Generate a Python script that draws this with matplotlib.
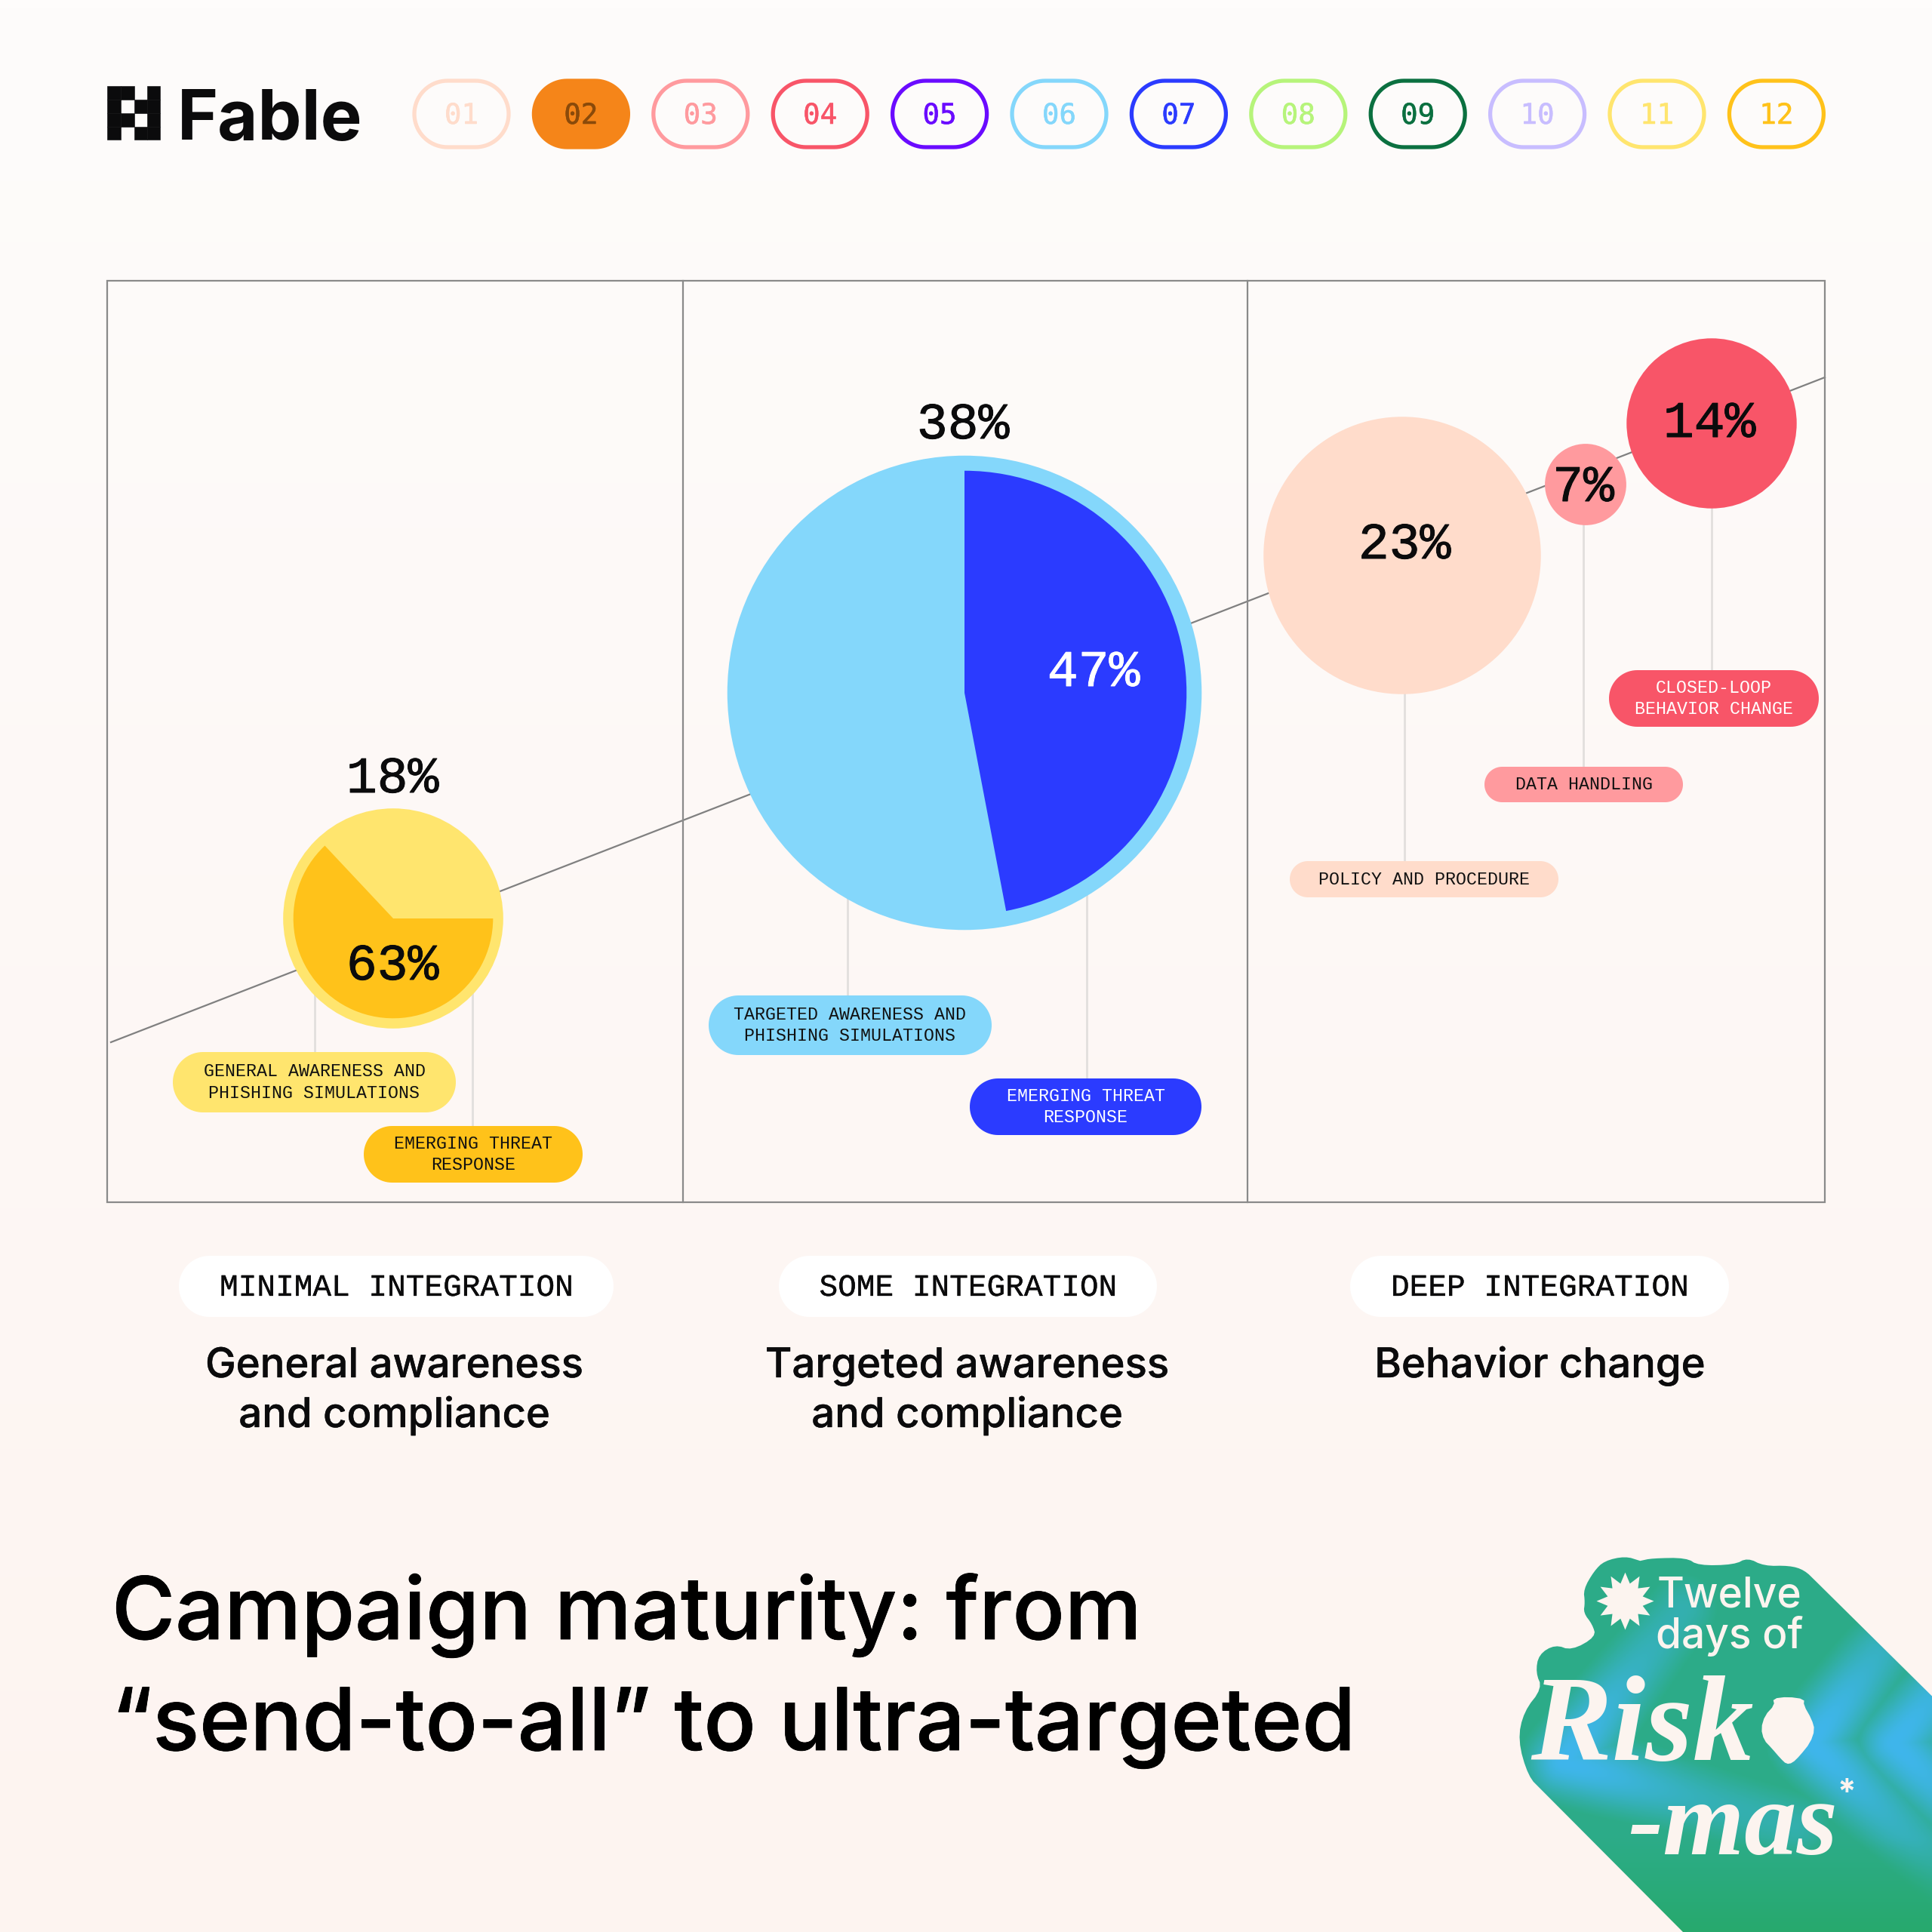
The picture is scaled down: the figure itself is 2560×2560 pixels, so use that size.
"""
Campaign maturity infographic, laid out in pixel coordinates on a 2560 canvas.
"""
import numpy as np
import matplotlib
matplotlib.use("Agg")
import matplotlib.pyplot as plt
import matplotlib.patheffects as pe
from matplotlib.patches import Circle, Wedge, Polygon, Rectangle

# --- data ---
STAGES = ["MINIMAL INTEGRATION", "SOME INTEGRATION", "DEEP INTEGRATION"]
STAGE_NOTES = [["General awareness", "and compliance"], ["Targeted awareness", "and compliance"], ["Behavior change"]]
STAGE_TOTALS = [18, 38]
INNER_SHARES = [63, 47]
DEEP_VALUES = [23, 7, 14]
STEP_LABELS = ["01", "02", "03", "04", "05", "06", "07", "08", "09", "10", "11", "12"]
PILL_LABELS = [
    "GENERAL AWARENESS AND\nPHISHING SIMULATIONS",
    "EMERGING THREAT\nRESPONSE",
    "TARGETED AWARENESS AND\nPHISHING SIMULATIONS",
    "EMERGING THREAT\nRESPONSE",
    "POLICY AND PROCEDURE",
    "DATA HANDLING",
    "CLOSED-LOOP\nBEHAVIOR CHANGE",
]
TITLE_LINES = ["Campaign maturity: from", "\u201csend-to-all\u201d to ultra-targeted"]

# --- styles ---
STEP_COLORS = ["#FFDCCB", "#F58519", "#FF9A9E", "#F85568", "#6A0BFF", "#84D7FB",
               "#2B3BFF", "#B6F47A", "#0B7040", "#C8BDFF", "#FFE56E", "#FFC21A"]
PILL_COLORS = ["#FFE56E", "#FFC21A", "#84D7FB", "#2B3BFF", "#FFDCCB", "#FF9A9E", "#F85568"]
PILL_TEXT = ["#111111", "#111111", "#111111", "#FFFFFF", "#111111", "#111111", "#FFFFFF"]
MONO = "Liberation Mono"
SANS = "Inter"
INK = "#0B0B0C"
CREAM = "#FCF4EF"

fig = plt.figure(figsize=(12.8, 12.8), dpi=200)
ax = fig.add_axes([0, 0, 1, 1])

# background wash
top_rgb = np.array([254, 252, 251])
low_rgb = np.array([253, 244, 240])
wash = np.linspace(0, 1, 256)[:, None, None] * (low_rgb - top_rgb) + top_rgb
ax.imshow(wash / 255, extent=(0, 2560, 2560, 0), aspect="auto", zorder=0)
ax.set_xlim(0, 2560)
ax.set_ylim(2560, 0)
ax.axis("off")


def pill(x0, x1, y0, y1, **kw):
    # true stadium shape, FancyBboxPatch corners look too square
    r = (y1 - y0) / 2
    a = np.deg2rad(np.linspace(-90, 90, 40))
    right = np.column_stack([x1 - r + r * np.cos(a), (y0 + y1) / 2 + r * np.sin(a)])
    left = np.column_stack([x0 + r - r * np.cos(a), (y0 + y1) / 2 - r * np.sin(a)])
    p = Polygon(np.vstack([right, left]), closed=True, **kw)
    ax.add_patch(p)
    return p


def firm(width, color):
    return [pe.withStroke(linewidth=width, foreground=color)]


# === Header ===
cells_x = [142, 160, 178, 195, 212]
cells_y = [114, 132, 150, 168, 185]
logo_on = [[1, 1, 0, 1], [1, 0, 1, 1], [1, 1, 0, 1], [1, 0, 1, 1]]
for r, row in enumerate(logo_on):
    for c, on in enumerate(row):
        if on:
            ax.add_patch(Rectangle((cells_x[c], cells_y[r]), cells_x[c + 1] - cells_x[c],
                                   cells_y[r + 1] - cells_y[r], fc=INK, ec=INK, lw=0.2, zorder=3))
ax.text(235, 185, "Fable", family=SANS, weight="bold", fontsize=33.2, color=INK, ha="left", va="baseline")

for i, (lab, col) in enumerate(zip(STEP_LABELS, STEP_COLORS)):
    x0 = 547 + i * 158.4
    filled = i == 1
    pill(x0 + 2, x0 + 127, 107, 195, fc=col if filled else "none", ec=col, lw=1.9, zorder=3)
    tc = "#8A4A0A" if filled else col
    ax.text(x0 + 64.5, 154, lab, family="DejaVu Sans Mono", fontsize=13.5, ha="center", va="center",
            color=tc, zorder=4, path_effects=firm(0.2, tc))

# === Panels ===
ax.plot([147, 2418], [1381, 500], color="#808080", lw=0.8, zorder=1)
ax.add_patch(Rectangle((142, 372), 2276, 1221, fc="none", ec="#8A8A8A", lw=0.8, zorder=2))
for x in [905, 1653]:
    ax.plot([x, x], [372, 1593], color="#8A8A8A", lw=0.8, zorder=2)

# leader lines
leaders = [(417, 1300, 1395), (626, 1300, 1495), (1123, 1180, 1320), (1440, 1180, 1430),
           (1861, 900, 1143), (2098, 680, 1016), (2268, 660, 890)]
for x, y0, y1 in leaders:
    ax.plot([x, x], [y0, y1], color="#E2DFDD", lw=1.0, zorder=2)

# two pies inside rings
pie_layout = [(521, 1217, 8.1, 13.5, 0, "#FFE56E", "#FFC21A"), (1278, 918, 8.27, 20, 90, "#84D7FB", "#2B3BFF")]
for total, share, (cx, cy, scale, ring, start, light, dark) in zip(STAGE_TOTALS, INNER_SHARES, pie_layout):
    r = total * scale
    ax.add_patch(Circle((cx, cy), r, fc=light, ec="none", zorder=3))
    # y axis is inverted, so angles in Wedge run clockwise on screen
    a0 = -start
    a1 = a0 + share * 3.6
    ax.add_patch(Wedge((cx, cy), r - ring, a0, a1, fc=dark, ec="none", zorder=4))

# deep integration bubbles
deep_layout = [(1858, 736, 7.99, "#FFDCCB"), (2101, 642, 7.7, "#FF9A9E"), (2268, 561, 8.05, "#F85568")]
for v, (cx, cy, scale, col) in zip(DEEP_VALUES, deep_layout):
    ax.add_patch(Circle((cx, cy), v * scale, fc=col, ec="none", zorder=3))

# percentage labels
pct_text = STAGE_TOTALS + INNER_SHARES + DEEP_VALUES
pct_pos = [(520, 1032), (1276, 563), (520, 1280), (1449, 891), (1861, 722), (2098, 646), (2265, 561)]
pct_col = [INK, INK, INK, "#FFFFFF", INK, INK, INK]
for v, (x, y), col in zip(pct_text, pct_pos, pct_col):
    ax.text(x, y, f"{v}%", family=MONO, fontsize=24.5, color=col, ha="center", va="center", zorder=6,
            path_effects=firm(0.35, col))

# pills with category text
pill_boxes = [(229, 604, 1394, 1474), (482, 772, 1492, 1567), (939, 1314, 1319, 1398), (1285, 1592, 1429, 1504),
              (1709, 2065, 1141, 1189), (1967, 2230, 1016, 1063), (2132, 2410, 888, 963)]
for lab, (x0, x1, y0, y1), col, tc in zip(PILL_LABELS, pill_boxes, PILL_COLORS, PILL_TEXT):
    pill(x0, x1, y0, y1, fc=col, ec="none", zorder=5)
    ax.text((x0 + x1) / 2, (y0 + y1) / 2, lab, family=MONO, fontsize=8.4, color=tc, ha="center", va="center",
            linespacing=1.28, zorder=6)

# === Stage captions ===
stage_boxes = [(237, 813), (1032, 1533), (1789, 2291)]
note_x = [522, 1281, 2040]
for lab, note, (x0, x1), nx in zip(STAGES, STAGE_NOTES, stage_boxes, note_x):
    pill(x0, x1, 1664, 1745, fc="#FFFFFF", ec="none", zorder=3)
    ax.text((x0 + x1) / 2, 1706, lab, family=MONO, fontsize=14.8, color=INK, ha="center", va="center", zorder=4,
            path_effects=firm(0.1, INK))
    for line, y in zip(note, [1825, 1891]):
        ax.text(nx, y, line, family=SANS, weight="medium", fontsize=19.6, color=INK, ha="center", va="baseline",
                zorder=4, path_effects=firm(0.12, INK))

# === Title ===
for line, y in zip(TITLE_LINES, [2172, 2319]):
    ax.text(148, y, line, family=SANS, weight="medium", fontsize=41.3, color="#000000", ha="left", va="baseline",
            path_effects=firm(0.3, "#000000"))


# === Twelve days of Risk-mas sticker ===
def zoom_xy(pts):
    # outline was traced on a crop: 2.529x / 2.904y from (1940, 2020)
    return [(1940 + a / 2.529, 2020 + b / 2.904) for a, b in pts]


def smooth(pts, rounds=2, closed=False):
    pts = np.array(pts, float)
    for _ in range(rounds):
        nxt = np.roll(pts, -1, axis=0)
        new = np.column_stack([0.75 * pts + 0.25 * nxt, 0.25 * pts + 0.75 * nxt]).reshape(-1, 2)
        pts = new if closed else np.vstack([pts[:1], new[:-2], pts[-1:]])
    return pts


sticker = zoom_xy([(590, 140), (540, 122), (470, 140), (435, 180), (400, 250), (405, 300), (400, 340), (430, 385),
                   (442, 432), (360, 485), (305, 462), (250, 500), (240, 570), (262, 630), (200, 720), (180, 830),
                   (215, 970), (260, 1022)])
sticker_right = zoom_xy([(1180, 220), (1140, 175), (1090, 158), (1005, 160), (950, 128), (905, 155), (785, 158),
                         (745, 128), (630, 130), (590, 140)])
outline = np.vstack([smooth(sticker), [(2230, 2560), (2600, 2560), (2600, 2287)], smooth(sticker_right)])

xs = np.arange(1980, 2561, 2)
ys = np.arange(2040, 2561, 2)
gx, gy = np.meshgrid(xs, ys)


def seg_dist(ax_, ay_, bx_, by_):
    dx, dy = bx_ - ax_, by_ - ay_
    t = np.clip(((gx - ax_) * dx + (gy - ay_) * dy) / (dx * dx + dy * dy), 0, 1)
    return np.hypot(gx - ax_ - t * dx, gy - ay_ - t * dy)


# soft blue arms: each runs up-right from a corner and down-right along the shadow,
# strongest at the corner and turning teal towards the ends
bands = [
    [(2070, 2335), (2230, 2130), (2070, 2335), (2380, 2420)],
    [(2400, 2310), (2490, 2190), (2400, 2310), (2600, 2500)],
    [(2510, 2310), (2570, 2240), (2510, 2310), (2600, 2400)],
]
blue = np.zeros_like(gx, float) + 0.22
for b in bands:
    d = np.minimum(seg_dist(*b[0], *b[1]), seg_dist(*b[2], *b[3]))
    corner = np.hypot(gx - b[0][0], gy - b[0][1])
    blue = np.maximum(blue, np.exp(-(d / 50.0) ** 2) * (0.5 + 0.5 * np.exp(-(corner / 150.0) ** 2)))
blue = blue * np.clip((2560 - gy) / 130 + 0.05, 0.0, 1)
green = np.array([39, 169, 108]) / 255
sky = np.array([63, 182, 236]) / 255
img = green + blue[..., None] * (sky - green)
im = ax.imshow(img, extent=(1980, 2560, 2560, 2040), aspect="auto", zorder=7)
shape = Polygon(outline, closed=True, fc="none", ec="none", zorder=7)
ax.add_patch(shape)
im.set_clip_path(shape)
ax.set_xlim(0, 2560)
ax.set_ylim(2560, 0)

# star and jar
angles = np.deg2rad(np.arange(24) * 15 - 90)
radii = np.where(np.arange(24) % 2 == 0, 38, 24)
ax.add_patch(Polygon(np.column_stack([2153.5 + radii * np.cos(angles), 2121.6 + radii * np.sin(angles)]),
                     fc=CREAM, ec="none", zorder=8))
jar = zoom_xy([(1035, 670), (1085, 663), (1140, 672), (1138, 695), (1165, 750), (1175, 790), (1160, 840), (1125, 890),
               (1100, 918), (1080, 922), (1060, 900), (1030, 860), (1005, 830), (995, 785), (1008, 735), (1040, 695)])
ax.add_patch(Polygon(smooth(jar, 1, closed=True), fc=CREAM, ec="none", zorder=8))

ax.text(2292, 2130, "Twelve", family=SANS, weight="medium", fontsize=19.8, color=CREAM, ha="center", va="baseline", zorder=8)
ax.text(2292, 2184, "days of", family=SANS, weight="medium", fontsize=19.8, color=CREAM, ha="center", va="baseline", zorder=8)
ax.text(2176, 2332, "Risk", family="Liberation Serif", style="italic", weight="bold", fontsize=58, color=CREAM,
        ha="center", va="baseline", zorder=8)
ax.text(2296, 2457, "-mas", family="Liberation Serif", style="italic", weight="bold", fontsize=50, color=CREAM,
        ha="center", va="baseline", zorder=8)
ax.text(2447, 2377, "*", family=SANS, weight="bold", fontsize=16, color=CREAM, ha="center", va="center", zorder=8)

fig.savefig("out.png", dpi=200)
